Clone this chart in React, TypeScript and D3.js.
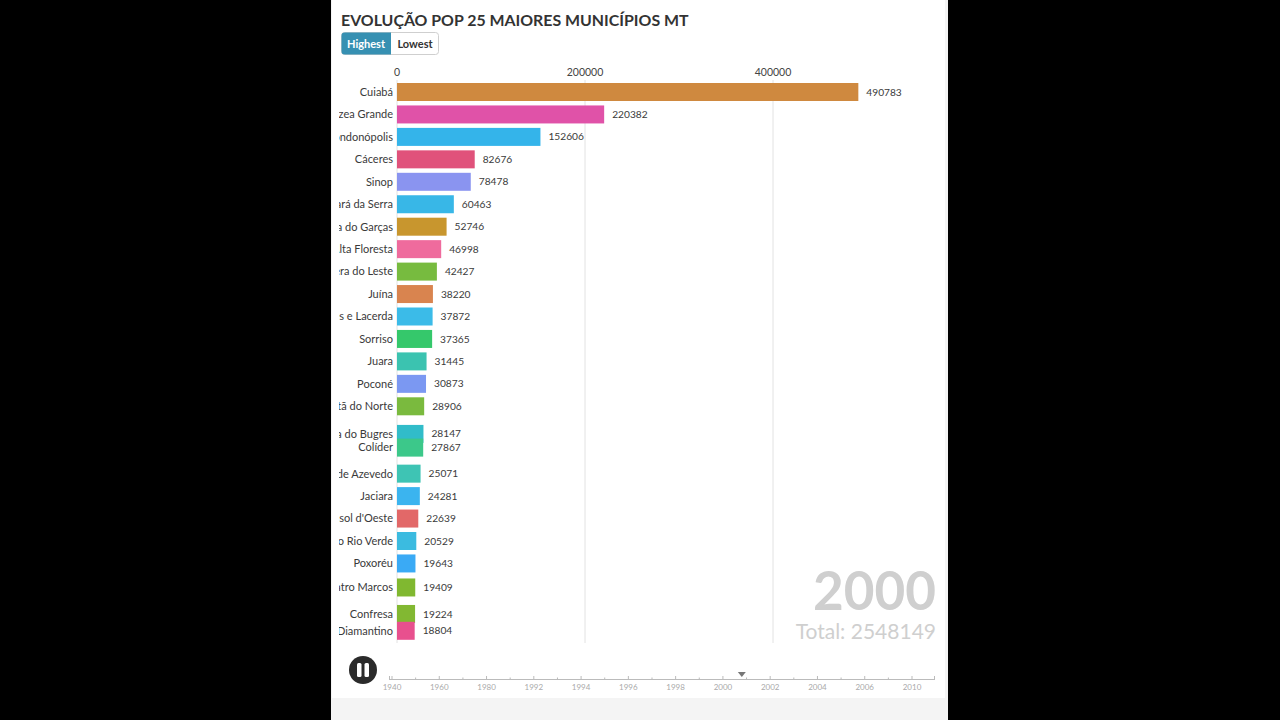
import React from "react";
import * as d3 from "d3";

const municipalities = [
  "Cuiabá", "Várzea Grande", "Rondonópolis", "Cáceres", "Sinop", "Tangará da Serra",
  "Barra do Garças", "Alta Floresta", "Primavera do Leste", "Juína", "Pontes e Lacerda",
  "Sorriso", "Juara", "Poconé", "Guarantã do Norte", "Barra do Bugres", "Colíder",
  "Peixoto de Azevedo", "Jaciara", "Mirassol d'Oeste", "Lucas do Rio Verde", "Poxoréu",
  "São José dos Quatro Marcos", "Confresa", "Diamantino",
];
const population2000 = [
  490783, 220382, 152606, 82676, 78478, 60463, 52746, 46998, 42427, 38220, 37872,
  37365, 31445, 30873, 28906, 28147, 27867, 25071, 24281, 22639, 20529, 19643,
  19409, 19224, 18804,
];
// rank positions at the captured animation frame (some bars are mid-swap)
const ranks = [
  0, 1, 2, 3, 4, 5, 6, 7, 8, 9, 10, 11, 12, 13, 14, 15.23, 15.84, 17, 18, 19, 20, 21,
  22.07, 23.25, 24,
];
const barColors = [
  "#cf893f", "#e052a8", "#34b4ea", "#e0527b", "#8a94f0", "#38b7e7", "#c8962e",
  "#ef6b9d", "#77bb3f", "#d9844f", "#3bbbe8", "#35c86b", "#3bc3b0", "#7b98f2",
  "#7aba3e", "#31bcc9", "#3cc88a", "#3ec4b4", "#3bb4ef", "#e26868", "#3bbbe0",
  "#3aaaf5", "#80b830", "#82b832", "#e8508e",
];
const xTicks = [0, 200000, 400000];
const timelineLabels = [
  "1940", "1960", "1980", "1992", "1994", "1996", "1998", "2000", "2002", "2004", "2006", "2010",
];
const currentYear = "2000";
const totalText = "Total: 2548149";
const timelinePosition = 7.4; // index in timeline (between 2000 and 2002)

const FONT = "Lato, 'Open Sans', sans-serif";

export default function App() {
  const x = d3.scaleLinear().domain([0, 200000]).range([397, 585]);
  const y = d3.scaleLinear().domain([0, 24]).range([92, 630.8]);
  const barH = 18;
  const tl = d3
    .scaleLinear()
    .domain([0, timelineLabels.length - 1])
    .range([392, 912]);
  const minorTicks = d3.range(0, timelineLabels.length - 0.5, 0.5);

  return (
    <div
      style={{
        position: "absolute",
        left: 0,
        top: 0,
        width: 1280,
        height: 720,
        background: "#000",
        overflow: "hidden",
      }}
    >
      <svg width={1280} height={720} style={{ display: "block", fontFamily: FONT }}>
        <defs>
          <clipPath id="panelClip">
            <rect x={339} y={0} width={610} height={720} />
          </clipPath>
        </defs>
        <rect x={331} y={0} width={617} height={720} fill="#f4f4f4" />
        <rect x={332} y={0} width={613} height={698} fill="#ffffff" />

        <text x={341} y={26} fontSize={15.9} fontWeight={700} fill="#333">
          EVOLUÇÃO POP 25 MAIORES MUNICÍPIOS MT
        </text>
        <g>
          <rect x={341.5} y={32.5} width={97} height={22} rx={3} fill="#fff" stroke="#cfcfcf" />
          <path d="M344.5,32.5 H391 V54.5 H344.5 A3,3 0 0 1 341.5,51.5 V35.5 A3,3 0 0 1 344.5,32.5 Z" fill="#3690b2" />
          <text x={366} y={47.5} fontSize={11} fontWeight={700} fill="#fff" textAnchor="middle">
            Highest
          </text>
          <text x={415} y={47.5} fontSize={11} fontWeight={700} fill="#333" textAnchor="middle">
            Lowest
          </text>
        </g>

        {xTicks.map((t) => (
          <g key={t}>
            <line x1={x(t)} x2={x(t)} y1={80} y2={643} stroke="#e2e2e2" strokeWidth={1} />
            <text x={x(t)} y={76} fontSize={10.5} fill="#444" textAnchor="middle">
              {t}
            </text>
          </g>
        ))}

        <g clipPath="url(#panelClip)">
          {municipalities.map((m, i) => (
            <g key={m}>
              <rect
                x={x(0)}
                y={y(ranks[i]) - barH / 2}
                width={x(population2000[i]) - x(0)}
                height={barH}
                fill={barColors[i]}
              />
              <text
                x={393}
                y={y(ranks[i])}
                dy="0.35em"
                fontSize={11}
                fill="#3a3a3a"
                textAnchor="end"
              >
                {m}
              </text>
              <text x={x(population2000[i]) + 8} y={y(ranks[i])} dy="0.35em" fontSize={10.2} fill="#3a3a3a">
                {population2000[i]}
              </text>
            </g>
          ))}
        </g>

        <text x={936} y={610} fontSize={53} fontWeight={700} fill="#cfcfcf" textAnchor="end">
          {currentYear}
        </text>
        <text x={936} y={639} fontSize={21} fill="#cfcfcf" textAnchor="end">
          {totalText}
        </text>

        <circle cx={363} cy={670} r={14} fill="#2b2b2b" />
        <rect x={357} y={663} width={4.5} height={14} rx={1.5} fill="#fff" />
        <rect x={364.5} y={663} width={4.5} height={14} rx={1.5} fill="#fff" />

        <line x1={389} x2={935} y1={679.5} y2={679.5} stroke="#bbb" />
        <line x1={389.5} x2={389.5} y1={676} y2={680} stroke="#bbb" />
        <line x1={934.5} x2={934.5} y1={676} y2={680} stroke="#bbb" />
        {minorTicks.map((t) => (
          <line
            key={t}
            x1={tl(t)}
            x2={tl(t)}
            y1={Number.isInteger(t) ? 676 : 677.5}
            y2={680}
            stroke="#bbb"
          />
        ))}
        {timelineLabels.map((l, i) => (
          <text key={l} x={tl(i)} y={690} fontSize={8} fill="#aaa" textAnchor="middle">
            {l}
          </text>
        ))}
        <path
          d={`M${tl(timelinePosition) - 4},672 L${tl(timelinePosition) + 4},672 L${tl(timelinePosition)},677 Z`}
          fill="#777"
        />
      </svg>
    </div>
  );
}
